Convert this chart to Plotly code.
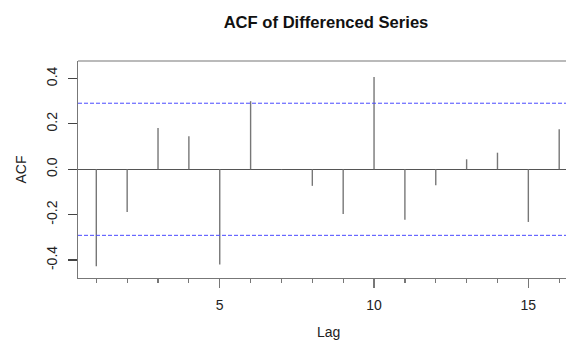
import plotly.graph_objects as go

lags = list(range(1, 17))
acf_vals = [-0.427, -0.188, 0.182, 0.145, -0.420, 0.300, -0.003, -0.073,
            -0.197, 0.407, -0.222, -0.070, 0.044, 0.073, -0.232, 0.176]
conf_limit = 0.291
y_ticks = [-0.4, -0.2, 0.0, 0.2, 0.4]
y_tick_labels = ["-0.4", "-0.2", "0.0", "0.2", "0.4"]
x_ticks = [5, 10, 15]
x_tick_labels = ["5", "10", "15"]

xs, ys = [], []
for l, v in zip(lags, acf_vals):
    xs += [l, l, None]
    ys += [0, v, None]

font_family = "Liberation Sans, Arial, sans-serif"
W, H = 566, 342
L = 78
T = 61
PB = 278
B = H - PB
PW = W - L
PH = PB - T
PX_PER_LAG = 30.86
x0 = 0.407
x1 = x0 + PW / PX_PER_LAG

fig = go.Figure()
fig.add_trace(go.Scatter(x=xs, y=ys, mode="lines",
                         line=dict(color="#777777", width=1.4),
                         hoverinfo="skip", showlegend=False))

for c in (conf_limit, -conf_limit):
    fig.add_shape(type="line", xref="paper", x0=0, x1=1, yref="y", y0=c, y1=c,
                  line=dict(color="#4a4aff", width=1, dash="4px,2px"))

fig.add_shape(type="line", xref="paper", yref="paper", x0=0, x1=1, y0=1, y1=1,
              line=dict(color="#777777", width=1.2))

fig.update_layout(
    width=W, height=H,
    margin=dict(l=L, r=0, t=T, b=B, autoexpand=False),
    paper_bgcolor="white", plot_bgcolor="white",
    title=dict(text="<b>ACF of Differenced Series</b>", x=326 / W,
               xanchor="center", y=1 - 22 / H, yanchor="middle",
               font=dict(family=font_family, size=16.6, color="#111111")),
    font=dict(family=font_family, size=14, color="#222222"),
    annotations=[
        dict(text="Lag", xref="paper", yref="paper",
             x=(328 - L) / PW, y=-(342 - PB) / PH,
             xanchor="center", yanchor="bottom",
             showarrow=False, font=dict(size=14, color="#222222")),
        dict(text="ACF", xref="paper", yref="paper",
             x=-(L - 20) / PW, y=0.5, xanchor="center", yanchor="middle",
             textangle=-90, showarrow=False, font=dict(size=14, color="#222222")),
    ],
)

fig.update_xaxes(
    range=[x0, x1], showgrid=False, zeroline=False, automargin=False,
    showline=True, linecolor="#777777", linewidth=1.2,
    tickmode="array", tickvals=x_ticks, ticktext=x_tick_labels,
    ticks="outside", ticklen=9, tickcolor="#777777", tickwidth=1.2,
    minor=dict(dtick=1, tick0=0, ticks="outside", ticklen=4,
               tickcolor="#777777", tickwidth=1.2, showgrid=False),
    tickfont=dict(size=14), ticklabelstandoff=5,
)
fig.update_yaxes(
    range=[-0.479, 0.477], showgrid=False, automargin=False,
    zeroline=True, zerolinecolor="#555555", zerolinewidth=1.2,
    showline=True, linecolor="#777777", linewidth=1.2,
    tickmode="array", tickvals=y_ticks, ticktext=y_tick_labels,
    ticks="outside", ticklen=9, tickcolor="#444444", tickwidth=1.2,
    tickangle=-90, tickfont=dict(size=14), ticklabelstandoff=5,
)

fig.write_html(
    "out.html",
    config={"displayModeBar": False, "staticPlot": True},
    post_script="document.body.style.margin='0';document.body.style.overflow='hidden';",
)
